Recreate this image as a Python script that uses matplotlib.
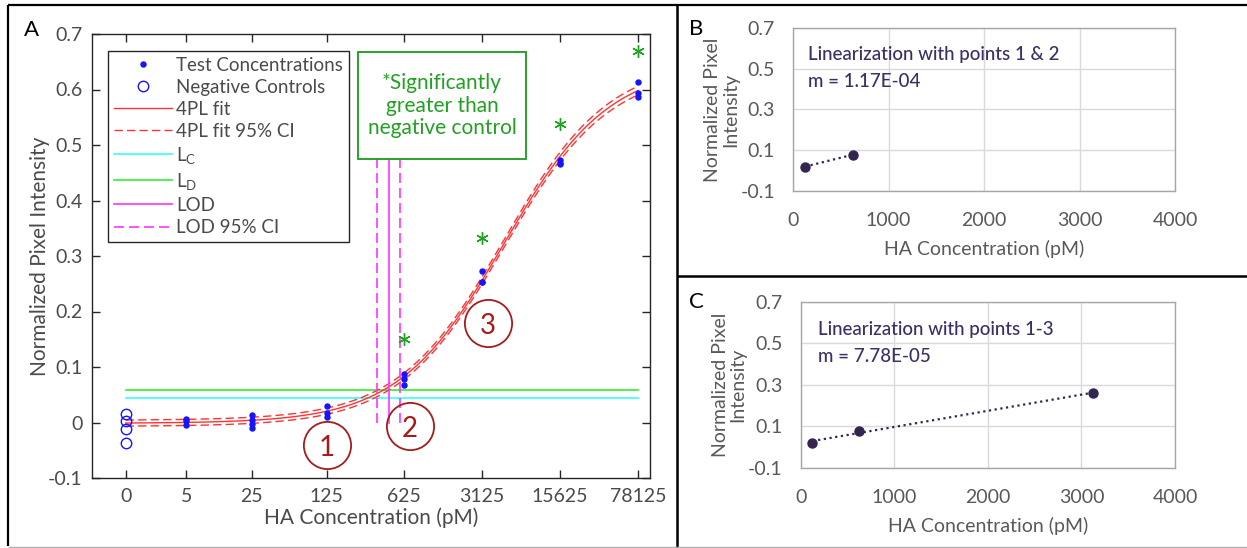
import numpy as np
import matplotlib
matplotlib.use("Agg")
import matplotlib.pyplot as plt
from matplotlib.lines import Line2D
from matplotlib.patches import Rectangle

plt.rcParams["font.family"] = ["Lato", "DejaVu Sans"]
plt.rcParams["mathtext.fontset"] = "custom"
plt.rcParams["mathtext.rm"] = "Lato"
plt.rcParams["mathtext.it"] = "Lato:italic"

# ---------------- data ----------------
# Panel A: dose-response of test strips
tick_conc = [0, 5, 25, 125, 625, 3125, 15625, 78125]
tick_labels = ["0", "5", "25", "125", "625", "3125", "15625", "78125"]

test_conc = [5, 5, 5,
             25, 25, 25, 25,
             125, 125, 125,
             625, 625, 625,
             3125, 3125, 3125,
             15625, 15625, 15625,
             78125, 78125, 78125]
test_signal = [0.006, 0.002, -0.004,
               0.013, 0.005, -0.002, -0.010,
               0.030, 0.018, 0.0105,
               0.088, 0.078, 0.068,
               0.273, 0.254, 0.253,
               0.473, 0.468, 0.466,
               0.613, 0.594, 0.587]
neg_conc = [0, 0, 0, 0]
neg_signal = [0.015, 0.002, -0.012, -0.037]

sig_conc = [625, 3125, 15625, 78125]
sig_signal = [0.151, 0.333, 0.537, 0.670]

# 4PL fit parameters (bottom, top, EC50, Hill slope) and CI offsets
fit_bottom, fit_top, fit_ec50, fit_hill = -0.001, 0.645, 4900.0, 0.92
ci_bottom_offset, ci_top_offset = 0.0055, 0.008

limit_critical = 0.044   # L_C
limit_detection = 0.058  # L_D
lod = 453.0
lod_ci = [355.0, 577.0]

# circled reference points (concentration, signal, label)
ref_conc = [125, 698, 3507]
ref_signal = [-0.041, -0.007, 0.179]
ref_labels = ["1", "2", "3"]

# Panels B and C: linearisation points (mean signals)
lin_conc = [125, 625, 3125]
lin_signal = [0.0195, 0.078, 0.260]

# ---------------- helpers ----------------
W, H = 1247, 548


def fourpl(c, bottom, top, ec50, hill):
    c = np.asarray(c, dtype=float)
    return top + (bottom - top) / (1.0 + (np.maximum(c, 1e-12) / ec50) ** hill)


def fwd(c):
    return np.log10(np.maximum(np.asarray(c, dtype=float) + 2.0, 1e-9))


def inv(v):
    return 10.0 ** np.asarray(v, dtype=float) - 2.0


def fig_pos(left, top, right, bottom):
    return [left / W, 1 - bottom / H, (right - left) / W, (bottom - top) / H]


def px(x, y):
    return x / W, 1 - y / H


fig = plt.figure(figsize=(W / 100, H / 100), dpi=100)

gray_txt = "#4a4a4a"
dark = "#262626"

# ---------------- Panel A ----------------
axA = fig.add_axes(fig_pos(92, 34, 650, 478))
axA.set_xscale("function", functions=(fwd, inv))
axA.set_xlim(-1, 1e5 - 2)
axA.set_ylim(-0.1, 0.7)

grid_c = inv(np.linspace(fwd(0), fwd(78125), 500))
grid_c[0] = 0.0
fit = fourpl(grid_c, fit_bottom, fit_top, fit_ec50, fit_hill)
ci_lo = fourpl(grid_c, fit_bottom - ci_bottom_offset, fit_top - ci_top_offset, fit_ec50, fit_hill)
ci_hi = fourpl(grid_c, fit_bottom + ci_bottom_offset, fit_top + ci_top_offset, fit_ec50, fit_hill)

h_lc, = axA.plot([0, 78125], [limit_critical] * 2, color="#33ffff", lw=1.2)
h_ld, = axA.plot([0, 78125], [limit_detection] * 2, color="#33ee33", lw=1.2)
h_ci, = axA.plot(grid_c, ci_lo, color="#ff3333", lw=1.0, ls=(0, (6, 3)))
axA.plot(grid_c, ci_hi, color="#ff3333", lw=1.0, ls=(0, (6, 3)))
h_fit, = axA.plot(grid_c, fit, color="#ff3333", lw=1.0)
h_lod, = axA.plot([lod, lod], [0, 0.475], color="#ff33ff", lw=1.2)
h_lodci, = axA.plot([lod_ci[0]] * 2, [0, 0.475], color="#ff33ff", lw=1.2, ls=(0, (6, 3)))
axA.plot([lod_ci[1]] * 2, [0, 0.475], color="#ff33ff", lw=1.2, ls=(0, (6, 3)))

h_test, = axA.plot(test_conc, test_signal, "o", color="#1414ff", ms=3.6, ls="none", zorder=5)
h_neg, = axA.plot(neg_conc, neg_signal, "o", mfc="none", mec="#1414ff", mew=1.0, ms=7.5, ls="none", zorder=5)

axA.plot(sig_conc, sig_signal, ls="none", marker=(6, 2, 0), ms=9, mew=1.0,
         color="#22a022", zorder=6)

for c, s, lab in zip(ref_conc, ref_signal, ref_labels):
    axA.plot([c], [s], "o", ms=34, mfc="none", mec="#a51c1c", mew=1.3, zorder=6)
    axA.text(c, s, lab, ha="center", va="center_baseline", fontsize=20, color="#a51c1c", zorder=7)

axA.set_xticks(tick_conc)
axA.set_xticklabels(tick_labels)
axA.set_yticks(np.round(np.arange(-0.1, 0.71, 0.1), 1))
axA.set_yticklabels(["-0.1", "0", "0.1", "0.2", "0.3", "0.4", "0.5", "0.6", "0.7"])
axA.minorticks_off()
axA.tick_params(direction="in", top=True, right=True, length=6, width=1.0, color=dark,
                labelsize=14, labelcolor=gray_txt, pad=7)
for sp in axA.spines.values():
    sp.set_color(dark)
    sp.set_linewidth(1.0)
axA.set_xlabel("HA Concentration (pM)", fontsize=15, color=gray_txt, labelpad=2)
axA.set_ylabel("Normalized Pixel Intensity", fontsize=15, color=gray_txt, labelpad=-2)

leg = axA.legend([h_test, h_neg, h_fit, h_ci, h_lc, h_ld, h_lod, h_lodci],
                 ["Test Concentrations", "Negative Controls", "4PL fit", "4PL fit 95% CI",
                  r"L$_\mathrm{C}$", r"L$_\mathrm{D}$", "LOD", "LOD 95% CI"],
                 loc="upper left", bbox_to_anchor=((108 - 92) / 558, (478 - 51) / 444),
                 borderaxespad=0, fancybox=False, framealpha=1, edgecolor=dark,
                 fontsize=13.5, handlelength=3.1, handletextpad=0.25, labelspacing=0.27,
                 borderpad=0.3, labelcolor=gray_txt)
leg.get_frame().set_linewidth(1.0)
leg.set_zorder(10)

box_l, box_r = (358 - 92) / 558, (526 - 92) / 558
box_b, box_t = (478 - 159) / 444, (478 - 52) / 444
axA.add_patch(Rectangle((box_l, box_b), box_r - box_l, box_t - box_b, transform=axA.transAxes,
                        facecolor="white", edgecolor="#1a9a1a", lw=1.3, zorder=9))
axA.text((box_l + box_r) / 2, (box_b + box_t) / 2,
         "*Significantly\ngreater than\nnegative control",
         transform=axA.transAxes, ha="center", va="center", fontsize=15,
         color="#22a022", linespacing=1.15, zorder=10)

fig.text(*px(31, 30), "A", fontsize=16, color="black", ha="center", va="center")

# ---------------- Panels B and C ----------------
purple = "#33254f"
purple_txt = "#3d2f63"


def lin_panel(pos, n, title, label_pos, letter_xy, letter):
    ax = fig.add_axes(pos)
    xs = np.array(lin_conc[:n], dtype=float)
    ys = np.array(lin_signal[:n], dtype=float)
    m, b0 = np.polyfit(xs, ys, 1)
    line_x = np.array([xs.min(), xs.max()])
    ax.plot(line_x, m * line_x + b0, color=purple, lw=1.6, ls=(0, (1, 1.6)), zorder=3)
    ax.plot(xs, ys, "o", color=purple, ms=6.5, zorder=4)
    ax.set_xlim(0, 4000)
    ax.set_ylim(-0.1, 0.7)
    ax.set_xticks([0, 1000, 2000, 3000, 4000])
    ax.set_yticks([-0.1, 0.1, 0.3, 0.5, 0.7])
    ax.set_yticklabels(["-0.1", "0.1", "0.3", "0.5", "0.7"])
    ax.grid(True, color="#d9d9d9", lw=1.0)
    ax.set_axisbelow(True)
    for sp in ax.spines.values():
        sp.set_color("#a6a6a6")
        sp.set_linewidth(1.0)
    ax.tick_params(axis="y", length=0, labelsize=14, labelcolor="#595959", pad=13)
    ax.tick_params(axis="x", length=0, labelsize=14, labelcolor="#595959", pad=15)
    ax.set_xlabel("HA Concentration (pM)", fontsize=14, color="#595959", labelpad=8)
    ax.set_ylabel("Normalized Pixel\nIntensity", fontsize=14, color="#595959",
                  labelpad=1, linespacing=1.05)
    ax.text(label_pos[0], label_pos[1], title, transform=ax.transAxes, fontsize=13.5,
            color=purple_txt, va="center", ha="left", fontweight="medium")
    ax.text(label_pos[0], label_pos[2], f"m = {m:.2E}", transform=ax.transAxes,
            fontsize=13.5, color=purple_txt, va="center", ha="left", fontweight="medium")
    fig.text(*px(*letter_xy), letter, fontsize=16, color="black", ha="center", va="center")
    return ax


lin_panel(fig_pos(793, 28, 1175, 191), 2, "Linearization with points 1 & 2",
          ((807.7 - 793) / 382, 0.84, 0.669), (696, 29), "B")
lin_panel(fig_pos(800.7, 301.7, 1175, 467.7), 3, "Linearization with points 1-3",
          ((817.7 - 800.7) / 374.3, 0.834, 0.669), (696, 302), "C")

# ---------------- panel frames ----------------
def frame_line(x0, y0, x1, y1, color="black", lw=1.5):
    (fx0, fy0), (fx1, fy1) = px(x0, y0), px(x1, y1)
    fig.add_artist(Line2D([fx0, fx1], [fy0, fy1], transform=fig.transFigure,
                          color=color, lw=lw, solid_capstyle="butt"))


frame_line(8, 5, 1247, 5, lw=1.6)
frame_line(8, 5, 8, 546, lw=1.6)
frame_line(677, 5, 677, 548, lw=1.8)
frame_line(677, 276, 1247, 276, lw=1.8)
frame_line(8, 546.5, 677, 546.5, color="#b0b0b0", lw=1.0)
frame_line(677, 546.5, 1247, 546.5, color="#b0b0b0", lw=1.0)

fig.savefig("out.png", dpi=100)
